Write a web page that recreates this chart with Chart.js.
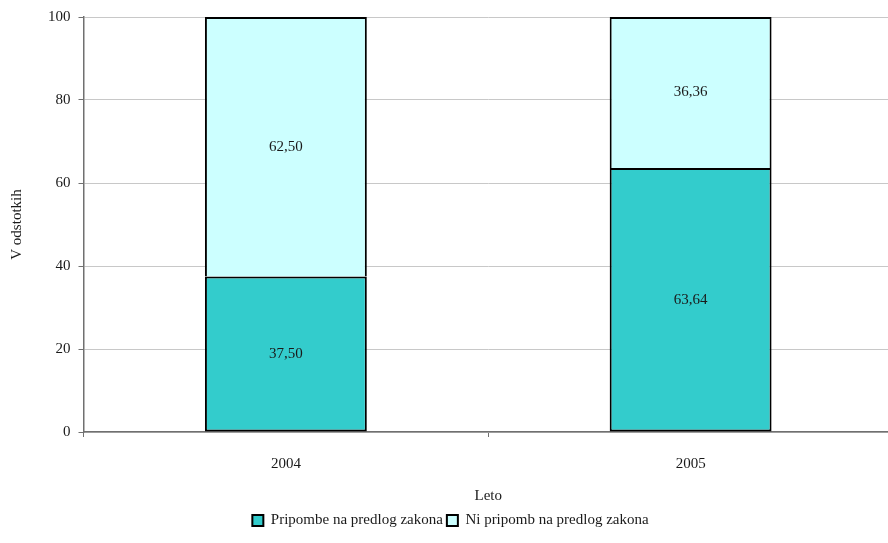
<!DOCTYPE html>
<html>
<head>
<meta charset="utf-8">
<script src="https://cdn.jsdelivr.net/npm/chart.js@4"></script>
<style>
  html, body { margin: 0; padding: 0; background: #fff; overflow: hidden; }
  #wrap { width: 893px; height: 543px; }
</style>
</head>
<body>
<div id="wrap"><canvas id="myChart"></canvas></div>
<script>
// chart data
const years = ["2004", "2005"];
const pripombe = [37.5, 63.64];
const niPripomb = [62.5, 36.36];
const seriesNames = ["Pripombe na predlog zakona", "Ni pripomb na predlog zakona"];
const yTicks = [0, 20, 40, 60, 80, 100];

const serif = "'Liberation Serif', 'DejaVu Serif', serif";

// draws the value in the middle of every bar segment
const valueLabels = {
  id: "valueLabels",
  afterDatasetsDraw(chart) {
    const ctx = chart.ctx;
    ctx.save();
    ctx.font = "15px " + serif;
    ctx.fillStyle = "#1a1a1a";
    ctx.textAlign = "center";
    ctx.textBaseline = "middle";
    chart.data.datasets.forEach((ds, i) => {
      chart.getDatasetMeta(i).data.forEach((bar, j) => {
        let mid = (bar.y + bar.base) / 2;
        ctx.fillText(ds.data[j].toFixed(2).replace(".", ","), bar.x, mid);
      });
    });
    ctx.restore();
  }
};

const ctx = document.getElementById("myChart").getContext("2d");
new Chart(ctx, {
  type: "bar",
  data: {
    labels: years,
    datasets: [
      {
        label: seriesNames[0],
        data: pripombe,
        backgroundColor: "#33cccc",
        borderColor: "#000000",
        borderWidth: 2,
        borderSkipped: false,
        categoryPercentage: 0.4,
        barPercentage: 1.0
      },
      {
        label: seriesNames[1],
        data: niPripomb,
        backgroundColor: "#ccffff",
        borderColor: "#000000",
        borderWidth: 2,
        borderSkipped: "bottom",
        categoryPercentage: 0.4,
        barPercentage: 1.0
      }
    ]
  },
  options: {
    responsive: true,
    maintainAspectRatio: false,
    animation: false,
    layout: { padding: { top: 10, right: 0, left: 8, bottom: 5 } },
    scales: {
      x: {
        stacked: true,
        grid: { offset: true, drawOnChartArea: false, drawTicks: true, tickLength: 5, tickColor: "#707070" },
        border: { color: "#707070", width: 1.5 },
        ticks: { color: "#1a1a1a", font: { family: serif, size: 15 }, padding: 18 },
        title: { display: true, text: "Leto", color: "#1a1a1a", font: { family: serif, size: 15 }, padding: { top: -4, bottom: 4 } }
      },
      y: {
        stacked: true,
        min: 0,
        max: 100,
        afterBuildTicks: (axis) => { axis.ticks = yTicks.map((v) => ({ value: v })); },
        grid: { color: "#c8c8c8", lineWidth: 1, drawTicks: true, tickLength: 5, tickColor: "#707070" },
        border: { color: "#707070", width: 1.5 },
        ticks: { color: "#1a1a1a", font: { family: serif, size: 15 }, padding: 8 },
        title: { display: true, text: "V odstotkih", color: "#1a1a1a", font: { family: serif, size: 15 }, padding: { top: 0, bottom: 14 } }
      }
    },
    plugins: {
      legend: {
        position: "bottom",
        labels: {
          color: "#1a1a1a",
          font: { family: serif, size: 15 },
          boxWidth: 11,
          boxHeight: 11,
          padding: 4
        }
      },
      tooltip: { enabled: false }
    }
  },
  plugins: [valueLabels]
});
</script>
</body>
</html>
